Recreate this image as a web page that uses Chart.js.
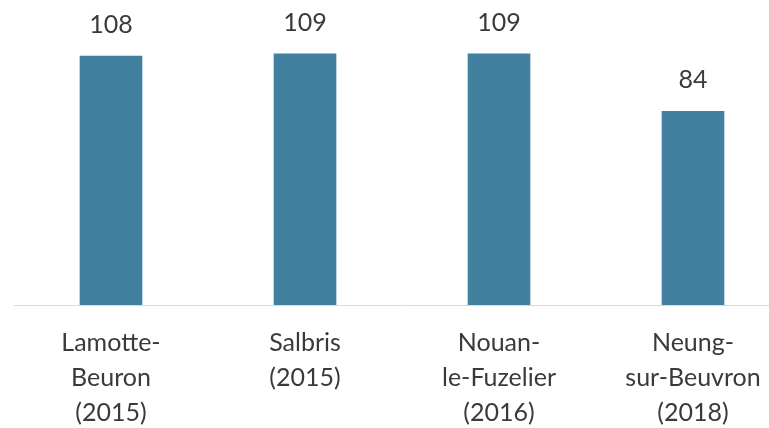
<!DOCTYPE html>
<html><head><meta charset="utf-8">
<script src="https://cdn.jsdelivr.net/npm/chart.js@4"></script>
<style>
html,body{margin:0;padding:0;background:#fff;overflow:hidden;width:769px;height:428px;}
#wrap{position:absolute;left:0;top:0;width:790px;height:428px;}
</style></head>
<body>
<div id="wrap"><canvas id="c" width="790" height="428"></canvas></div>
<script>
const categories = [
  ["Lamotte-", "Beuron", "(2015)"],
  ["Salbris", "(2015)"],
  ["Nouan-", "le-Fuzelier", "(2016)"],
  ["Neung-", "sur-Beuvron", "(2018)"]
];
const values = [108, 109, 109, 84];

const FONT = 'Lato, "Open Sans", sans-serif';
const TEXT = '#3a3a3a';

const valueLabels = {
  id: 'valueLabels',
  afterDatasetsDraw(chart) {
    const ctx = chart.ctx;
    const meta = chart.getDatasetMeta(0);
    ctx.save();
    ctx.font = '25px ' + FONT;
    ctx.fillStyle = TEXT;
    ctx.textAlign = 'center';
    ctx.textBaseline = 'alphabetic';
    meta.data.forEach((bar, i) => {
      ctx.fillText(String(values[i]), bar.x, bar.y - 23);
    });
    ctx.restore();
  }
};

new Chart(document.getElementById('c'), {
  type: 'bar',
  data: {
    labels: categories,
    datasets: [{
      data: values,
      backgroundColor: '#41809F',
      borderWidth: 0,
      barThickness: 62
    }]
  },
  options: {
    responsive: false,
    animation: false,
    layout: { padding: { left: 14, right: 0, top: 0, bottom: 0 } },
    plugins: { legend: { display: false }, tooltip: { enabled: false } },
    scales: {
      x: {
        grid: { display: false, drawTicks: false },
        border: { display: true, color: '#d9d9d9', width: 1 },
        ticks: {
          color: TEXT,
          font: { family: FONT, size: 25, lineHeight: 1.4 },
          padding: 20,
          maxRotation: 0,
          autoSkip: false
        },
        afterFit(scale) { scale.height = 123; }
      },
      y: {
        display: false,
        min: 0,
        max: 132.3
      }
    }
  },
  plugins: [valueLabels]
});
</script>
</body></html>
